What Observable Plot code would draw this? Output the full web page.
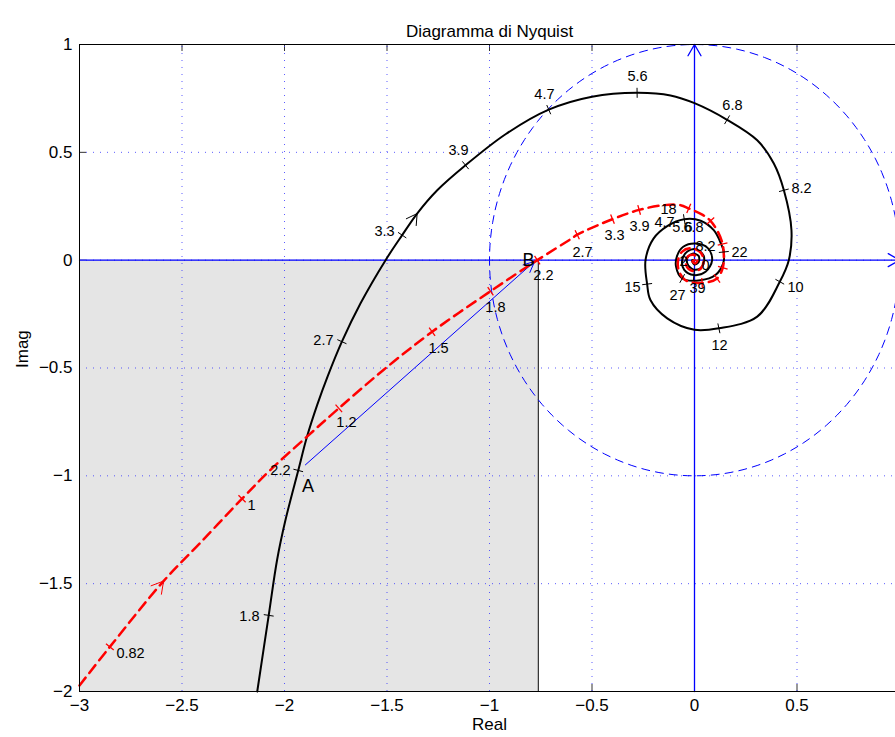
<!DOCTYPE html>
<html><head><meta charset="utf-8">
<script src="https://cdn.jsdelivr.net/npm/d3@7"></script>
<script src="https://cdn.jsdelivr.net/npm/@observablehq/plot@0.6"></script>
<style>
html,body{margin:0;padding:0;background:#fff;overflow:hidden;}
#chart svg{overflow:hidden;display:block;}
</style></head><body><div id="chart"></div>
<script>
// ---- data ----
const xTicks = [-3, -2.5, -2, -1.5, -1, -0.5, 0, 0.5, 1];
const yTicks = [-2, -1.5, -1, -0.5, 0, 0.5, 1];
const xDomain = [-3, 1];
const yDomain = [-2, 1];

// black solid Nyquist curve: [re, im, tick?]
const blackCurve = [
  [-2.133,-2.0],[-2.077,-1.647,1],[-2.036,-1.389],[-1.995,-1.204],[-1.933,-0.975,1],
  [-1.89,-0.818],[-1.84,-0.67],[-1.79,-0.54],[-1.72,-0.378,1],[-1.629,-0.2],
  [-1.507,0.0],[-1.426,0.116,1],[-1.353,0.216],[-1.255,0.324],[-1.117,0.44,1],
  [-0.92,0.585],[-0.711,0.698,1],[-0.50,0.758],[-0.28,0.776,1],
  [-0.117,0.764],[0.0,0.728],[0.159,0.651,1],[0.306,0.556],[0.387,0.448],
  [0.436,0.324,1],[0.473,0.139],[0.46,0.0],[0.416,-0.100,1],[0.306,-0.262],
  [0.119,-0.316,1],[0.0,-0.323],[-0.133,-0.27],[-0.215,-0.185],[-0.231,-0.111,1],
  [-0.239,0.0],[-0.2,0.1],[-0.133,0.158],[-0.05,0.19,1],[0.03,0.183],
  [0.094,0.139],[0.13,0.075],[0.143,0.038,1],[0.14,-0.015],[0.102,-0.069],
  [0.029,-0.093],[-0.06,-0.085,1],[-0.09,-0.03],[-0.085,0.02],[-0.055,0.062],
  [0.005,0.077],[0.065,0.056],[0.086,0.0],[0.054,-0.054],[-0.003,-0.069,1],
  [-0.05,-0.045],[-0.06,0.0],[-0.035,0.04],[0.01,0.05],[0.045,0.02],
  [0.04,-0.025],[0.005,-0.045],[-0.03,-0.025],[-0.035,0.01],[-0.01,0.03],
  [0.02,0.02],[0.02,-0.01],[0.0,-0.02],[-0.012,0.0],[0.0,0.0]
];

// red dashed Nyquist curve: [re, im, tick?]
const redCurve = [
  [-3.0,-1.972],[-2.852,-1.793,1],[-2.59,-1.488],[-2.41,-1.31],[-2.207,-1.106,1],
  [-2.068,-0.972],[-1.89,-0.818],[-1.735,-0.687,1],[-1.516,-0.508],[-1.28,-0.332,1],
  [-0.995,-0.144,1],[-0.767,0.0,1],[-0.605,0.097],[-0.572,0.118,1],[-0.40,0.19,1],
  [-0.27,0.233,1],[-0.15,0.255],[-0.068,0.255],[-0.028,0.240,1],[0.04,0.21],
  [0.078,0.182,1],[0.115,0.13],[0.137,0.075,1],[0.143,0.02],[0.138,-0.035,1],
  [0.11,-0.085,1],[0.037,-0.106,1],[-0.044,-0.093],[-0.076,-0.05],[-0.08,0.0],
  [-0.06,0.04],[-0.02,0.055],[0.025,0.04],[0.045,0.0],[0.03,-0.04],
  [-0.01,-0.05],[-0.04,-0.025],[-0.035,0.015],[-0.005,0.025],[0.015,0.005],
  [0.005,-0.015],[-0.01,-0.005],[0.0,0.0]
];

// frequency labels (text, re, im)
const blackLabels = [
  ["1.8",-2.171,-1.650],["2.2",-2.020,-0.974],["2.7",-1.810,-0.371],["3.3",-1.512,0.134],
  ["3.9",-1.151,0.510],["4.7",-0.732,0.770],["5.6",-0.278,0.853],["6.8",0.185,0.719],
  ["8.2",0.522,0.334],["10",0.493,-0.125],["12",0.122,-0.394],["15",-0.302,-0.125],
  ["18",-0.127,0.236],["22",0.220,0.037],["27",-0.083,-0.162],["39",0.015,-0.130],
  ["2",-0.054,-0.005],["0",0.054,-0.023]
];
const redLabels = [
  ["0.82",-2.751,-1.822],["1",-2.161,-1.136],["1.2",-1.698,-0.751],["1.5",-1.249,-0.408],
  ["1.8",-0.971,-0.218],["2.2",-0.737,-0.070],["2.7",-0.546,0.037],["3.3",-0.390,0.116],
  ["3.9",-0.268,0.158],["4.7",-0.146,0.176],["5.6",-0.059,0.153],["6.8",-0.005,0.153],
  ["8.2",0.054,0.065]
];
const pointLabels = [["A",-1.885,-1.05],["B",-0.81,0.0]];

const shade = [{x1: -3, x2: -0.762, y1: -2, y2: 0}];
const abArrow = [{x1: -1.898, y1: -0.949, x2: -0.78, y2: -0.006}];
const axisArrows = [{x1: -3, y1: 0, x2: 1, y2: 0}, {x1: 0, y1: -2, x2: 0, y2: 1}];
const blackDir = [{x1: -1.48, y1: 0.04, x2: -1.353, y2: 0.216}];
const redDir = [{x1: -2.852, y1: -1.793, x2: -2.59, y2: -1.488}];
const unitRadius = 1;

// ---- layout ----
const W = 895, H = 737;
const xRange = [79, 899], yRange = [691, 44];
const kx = (xRange[1] - xRange[0]) / (xDomain[1] - xDomain[0]);
const ky = (yRange[0] - yRange[1]) / (yDomain[1] - yDomain[0]);
const TL = 7; // inward axis tick length, px

const circle = d3.range(0, 361, 2).map(a => [unitRadius * Math.cos(a * Math.PI / 180), unitRadius * Math.sin(a * Math.PI / 180)]);

function tickSegments(curve, half) {
  const out = [];
  curve.forEach((p, i) => {
    if (!p[2]) return;
    const a = curve[Math.max(0, i - 1)], b = curve[Math.min(curve.length - 1, i + 1)];
    let tx = (b[0] - a[0]) * kx, ty = -(b[1] - a[1]) * ky;
    const n = Math.hypot(tx, ty) || 1; tx /= n; ty /= n;
    const nx = -ty, ny = tx;
    out.push({x1: p[0] + nx * half / kx, y1: p[1] - ny * half / ky,
              x2: p[0] - nx * half / kx, y2: p[1] + ny * half / ky});
  });
  return out;
}
const fmt = d => (d < 0 ? "\u2212" : "") + Math.abs(d);
const lbl = {x: d => d[1], y: d => d[2], text: d => d[0], fill: "black", fontSize: 14.5};
const innerX = xTicks.filter(d => d > -3 && d < 1);
const innerY = yTicks.filter(d => d > -2 && d < 1);

const chart = Plot.plot({
  width: W, height: H,
  marginLeft: 79, marginRight: W - xRange[1], marginTop: 44, marginBottom: H - 691,
  style: {fontFamily: "'Liberation Sans', Arial, Helvetica, sans-serif", background: "white"},
  x: {domain: xDomain, range: xRange},
  y: {domain: yDomain, range: yRange},
  marks: [
    Plot.ruleX(innerX, {y1: yDomain[0], y2: yDomain[0] + TL / ky, stroke: "#333"}),
    Plot.ruleX(innerX, {y1: yDomain[1] - TL / ky, y2: yDomain[1], stroke: "#333"}),
    Plot.ruleY(innerY, {x1: xDomain[0], x2: xDomain[0] + TL / kx, stroke: "#333"}),
    Plot.rect(shade, {x1: "x1", x2: "x2", y1: "y1", y2: "y2", fill: "#e5e5e5"}),
    Plot.ruleX(innerX, {y1: -2, y2: 1, stroke: "#3333ff", strokeOpacity: 0.8, strokeDasharray: "1,6"}),
    Plot.ruleY(innerY, {x1: -3, x2: 1, stroke: "#3333ff", strokeOpacity: 0.8, strokeDasharray: "1,6"}),
    Plot.ruleX([shade[0].x2], {y1: -2, y2: 0, stroke: "black", strokeWidth: 1}),
    Plot.line(circle, {x: d => d[0], y: d => d[1], stroke: "blue", strokeWidth: 1, strokeDasharray: "8,6"}),
    Plot.arrow(axisArrows, {x1: "x1", y1: "y1", x2: "x2", y2: "y2", stroke: "blue", strokeWidth: 1.3, headLength: 15, headAngle: 60}),
    Plot.arrow(abArrow, {x1: "x1", y1: "y1", x2: "x2", y2: "y2", stroke: "blue", strokeWidth: 1, headLength: 18, headAngle: 50}),
    Plot.line(blackCurve, {x: d => d[0], y: d => d[1], stroke: "black", strokeWidth: 2, curve: "catmull-rom"}),
    Plot.line(redCurve, {x: d => d[0], y: d => d[1], stroke: "red", strokeWidth: 2.5, strokeDasharray: "10,6", curve: "catmull-rom"}),
    Plot.link(tickSegments(blackCurve, 5), {x1: "x1", y1: "y1", x2: "x2", y2: "y2", stroke: "black", strokeWidth: 1}),
    Plot.link(tickSegments(redCurve, 5), {x1: "x1", y1: "y1", x2: "x2", y2: "y2", stroke: "red", strokeWidth: 1.3}),
    Plot.arrow(blackDir, {x1: "x1", y1: "y1", x2: "x2", y2: "y2", stroke: "black", strokeWidth: 1, headLength: 18, headAngle: 60, insetStart: 40}),
    Plot.arrow(redDir, {x1: "x1", y1: "y1", x2: "x2", y2: "y2", stroke: "red", strokeWidth: 1, headLength: 20, headAngle: 60, insetStart: 80}),
    Plot.text(blackLabels, lbl),
    Plot.text(redLabels, lbl),
    Plot.text(pointLabels, {...lbl, fontSize: 18}),
    Plot.ruleY([-2, 1], {x1: -3, x2: 1, stroke: "black", strokeWidth: 1}),
    Plot.ruleX([-3], {y1: -2, y2: 1, stroke: "black", strokeWidth: 1}),
    Plot.axisX(xTicks.filter(d => d < 1), {tickSize: 0, tickPadding: 7, fontSize: 17, tickFormat: fmt, label: null}),
    Plot.axisY(yTicks, {tickSize: 0, tickPadding: 7, fontSize: 17, tickFormat: fmt, label: null}),
    Plot.text(["Diagramma di Nyquist"], {text: d => d, frameAnchor: "top", dy: -20, fontSize: 17, fill: "black"}),
    Plot.text(["Real"], {text: d => d, frameAnchor: "bottom", dy: 38, fontSize: 17, fill: "black"}),
    Plot.text(["Imag"], {text: d => d, frameAnchor: "left", dx: -57, rotate: -90, fontSize: 17, fill: "black"})
  ]
});
document.getElementById("chart").appendChild(chart);
</script></body></html>
